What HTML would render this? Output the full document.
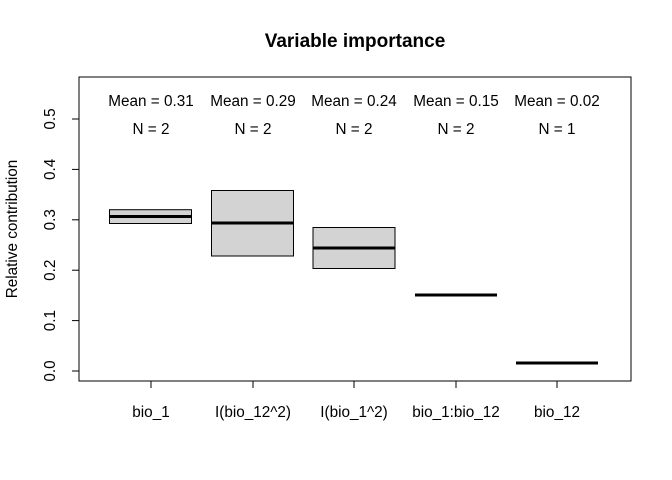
<!DOCTYPE html>
<html><head><style>body{margin:0;background:#fff}svg{display:block}</style></head><body>
<svg width="672" height="480" xmlns="http://www.w3.org/2000/svg" font-family="Liberation Sans, sans-serif">
<rect width="672" height="480" fill="#fff"/>
<text x="355" y="47" text-anchor="middle" font-size="19" font-weight="bold">Variable importance</text>
<rect x="79" y="77" width="552" height="304" fill="none" stroke="#000"/>
<g stroke="#000">
<line x1="79" y1="371" x2="79" y2="119"/>
<line x1="72" y1="371" x2="79" y2="371"/><line x1="72" y1="320.6" x2="79" y2="320.6"/><line x1="72" y1="270.2" x2="79" y2="270.2"/><line x1="72" y1="219.8" x2="79" y2="219.8"/><line x1="72" y1="169.4" x2="79" y2="169.4"/><line x1="72" y1="119" x2="79" y2="119"/>
<line x1="151" y1="381" x2="557" y2="381"/>
<line x1="151" y1="381" x2="151" y2="388"/><line x1="253" y1="381" x2="253" y2="388"/><line x1="354" y1="381" x2="354" y2="388"/><line x1="456" y1="381" x2="456" y2="388"/><line x1="557" y1="381" x2="557" y2="388"/>
</g>
<g font-size="15.3" text-anchor="middle">
<text transform="translate(55,371) rotate(-90)" dy="0">0.0</text>
<text transform="translate(55,320.6) rotate(-90)" dy="0">0.1</text>
<text transform="translate(55,270.2) rotate(-90)" dy="0">0.2</text>
<text transform="translate(55,219.8) rotate(-90)" dy="0">0.3</text>
<text transform="translate(55,169.4) rotate(-90)" dy="0">0.4</text>
<text transform="translate(55,119) rotate(-90)" dy="0">0.5</text>
<text transform="translate(17,229) rotate(-90)" dy="0">Relative contribution</text>
<text x="151" y="417">bio_1</text><text x="253" y="417">I(bio_12^2)</text><text x="354" y="417">I(bio_1^2)</text><text x="456" y="417">bio_1:bio_12</text><text x="557" y="417">bio_12</text>
<text x="151" y="106">Mean = 0.31</text><text x="253" y="106">Mean = 0.29</text><text x="354" y="106">Mean = 0.24</text><text x="456" y="106">Mean = 0.15</text><text x="557" y="106">Mean = 0.02</text>
<text x="151" y="134">N = 2</text><text x="253" y="134">N = 2</text><text x="354" y="134">N = 2</text><text x="456" y="134">N = 2</text><text x="557" y="134">N = 1</text>
</g>
<g stroke="#000">
<rect x="109.5" y="209.7" width="82" height="13.8" fill="#d3d3d3"/>
<line x1="109.5" y1="216.5" x2="191.5" y2="216.5" stroke-width="3"/>
<rect x="211.5" y="190.5" width="82" height="65.5" fill="#d3d3d3"/>
<line x1="211.5" y1="223" x2="293.5" y2="223" stroke-width="3"/>
<rect x="313" y="227.5" width="82" height="41" fill="#d3d3d3"/>
<line x1="313" y1="248" x2="395" y2="248" stroke-width="3"/>
<line x1="415" y1="295" x2="497" y2="295" stroke-width="3"/>
<line x1="516" y1="363" x2="598" y2="363" stroke-width="3"/>
</g>
</svg>
</body></html>
